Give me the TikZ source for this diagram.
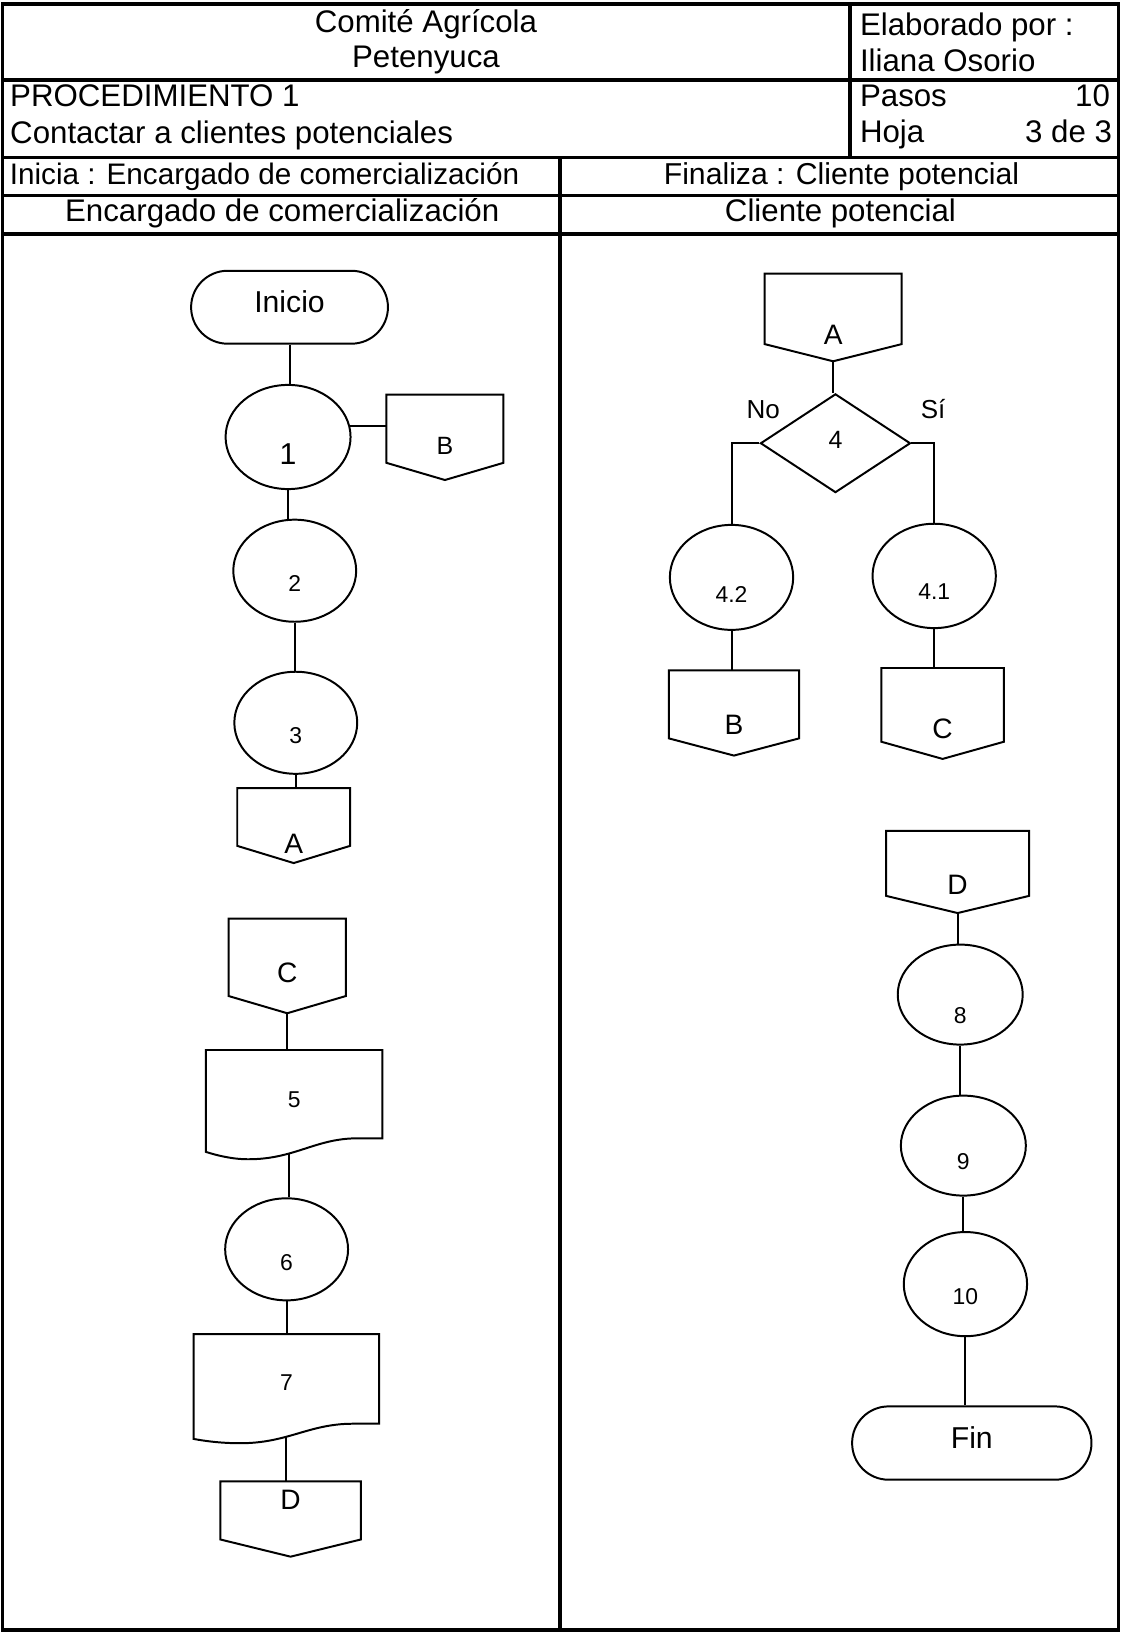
\documentclass[tikz,border=0pt]{standalone}
\usepackage{fontspec}
\setmainfont{Liberation Sans}
\usetikzlibrary{shapes.geometric}

\tikzset{
  linea/.style={line width=1.9pt},
  tabla/.style={line width=3.2pt},
  cab/.style={inner sep=0pt, font=\fontsize{30}{36}\selectfont},
  proc/.style={ellipse, draw, linea, inner sep=0pt, minimum width=118pt, minimum height=98pt},
  term/.style={rectangle, draw, linea, rounded corners=35pt, minimum height=70pt, text depth=10pt, font=\fontsize{29}{34}\selectfont},
  con/.style={rectangle, inner sep=0pt},
  grande/.style={font=\fontsize{27}{32}\selectfont},
  chico/.style={font=\fontsize{22}{26}\selectfont},
}
% conector fuera de pagina
\newcommand\conector[1]{%
  \draw[linea] (#1.north west) -- (#1.north east) -- (#1.south east)
    -- ([yshift=-16.5pt]#1.south) coordinate (#1-p) -- (#1.south west) -- cycle;}

\begin{document}
\begin{tikzpicture}[x=1pt,y=-1pt]
  \useasboundingbox (0,0) rectangle (1080,1568);

  % encabezado
  \draw[tabla] (2.4,3.8) rectangle (1074,1565);
  \draw[tabla] (2.4,76.8) -- (1074,76.8);
  \draw[tabla] (2.4,151) -- (1074,151);
  \draw[tabla] (2.4,188) -- (1074,188);
  \draw[tabla] (2.4,224.6) -- (1074,224.6);
  \draw[tabla] (816,3.8) -- (816,151);
  \draw[tabla] (537.6,151) -- (537.6,1565);

  \node[cab, anchor=base] (h1) at (409,31.5) {Comité Agrícola};
  \node[cab, anchor=base] (h2) at (409,65) {Petenyuca};
  \node[cab, anchor=base west] (h3) at (825.6,34.5) {Elaborado por :};
  \node[cab, anchor=base west] (h4) at (825.6,68.5) {Iliana Osorio};
  \node[cab, anchor=base west] (h5) at (9.6,102.4) {PROCEDIMIENTO 1};
  \node[cab, anchor=base west] (h6) at (9.6,137.5) {Contactar a clientes potenciales};
  \node[cab, anchor=base west] (h7) at (825.6,101.8) {Pasos};
  \node[cab, anchor=base east] (h8) at (1066,101.8) {10};
  \node[cab, anchor=base west] (h9) at (825.6,137.3) {Hoja};
  \node[cab, anchor=base east] (h10) at (1068,137.3) {3 de 3};
  \node[cab, anchor=base, font=\fontsize{28.5}{34}\selectfont] (h11) at (254,177) {Inicia : Encargado de comercialización};
  \node[cab, anchor=base, font=\fontsize{29}{34}\selectfont] (h12) at (808,177) {Finaliza : Cliente potencial};
  \node[cab, anchor=base] (h13) at (271,212.8) {Encargado de comercialización};
  \node[cab, anchor=base] (h14) at (807,212.8) {Cliente potencial};

  % Encargado de comercializacion
  \node[term, minimum width=189pt] (inicio) at (278,295) {Inicio};
  \node[proc, minimum width=120pt, minimum height=100pt, label={[font=\fontsize{29}{34}\selectfont, yshift=-16pt]center:1}] (p1) at (276.6,419.6) {};
  \node[con, minimum width=112pt, minimum height=65pt, label={[font=\fontsize{24}{28}\selectfont, yshift=-16pt]center:B}] (b1) at (427.2,411.7) {};
  \conector{b1}
  \node[proc, label={[chico, yshift=-12pt]center:2}] (p2) at (283,548) {};
  \node[proc, label={[chico, yshift=-12pt]center:3}] (p3) at (284,694) {};
  \node[con, minimum width=108pt, minimum height=55pt, label={[grande, yshift=-25.5pt]center:A}] (a1) at (282,784.5) {};
  \conector{a1}

  \node[con, minimum width=112pt, minimum height=74pt, label={[grande, yshift=-15pt]center:C}] (c1) at (275.8,919.2) {};
  \conector{c1}
  \node[con, minimum width=169.6pt, minimum height=84.8pt, label={[chico, yshift=-5.5pt]center:5}] (d5) at (282.6,1050.8) {};
  \draw[linea, shift={(d5.north west)}] (0,0) -- (169.6,0) -- (169.6,84.8) -- (145,84.8)
    .. controls (105,85) and (85,105) .. coordinate[pos=0.65] (d5-s) (40.6,104.9)
    .. controls (25,104.9) and (10,101) .. (0,97.8) -- cycle;
  \node[proc, label={[chico, yshift=-12.4pt]center:6}] (p6) at (275.2,1199.6) {};
  \node[con, minimum width=178pt, minimum height=86.1pt, label={[chico, yshift=-3.5pt]center:7}] (d7) at (275.2,1324.2) {};
  \draw[linea, shift={(d7.north west)}] (0,0) -- (178,0) -- (178,86.1) -- (152,86.1)
    .. controls (110,86.3) and (90,105) .. coordinate[pos=0.61] (d7-s) (44,104.8)
    .. controls (28,104.8) and (12,103) .. (0,100.7) -- cycle;
  \node[con, minimum width=134.4pt, minimum height=55.4pt, label={[grande, yshift=10pt]center:D}] (dd1) at (279,1450.3) {};
  \conector{dd1}

  \draw[linea] (inicio.south) -- (inicio.south |- p1.north);
  \draw[linea] (p1.10) -- (p1.10 -| b1.west);
  \draw[linea] (p1.south) -- (p1.south |- p2.north);
  \draw[linea] (p2.south) -- (p2.south |- p3.north);
  \draw[linea] (p3.south) -- (p3.south |- a1.north);
  \draw[linea] (c1-p) -- (c1-p |- d5.north);
  \draw[linea] (d5-s) -- (d5-s |- p6.north);
  \draw[linea] (p6.south) -- (p6.south |- d7.north);
  \draw[linea] (d7-s) -- (d7-s |- dd1.north);

  % Cliente potencial
  \node[con, minimum width=131.2pt, minimum height=67.2pt, label={[grande, yshift=-25pt]center:A}] (a2) at (800,296.6) {};
  \conector{a2}
  \node[diamond, draw, linea, inner sep=0pt, minimum width=144pt, minimum height=94.8pt, label={[font=\fontsize{24}{28}\selectfont, yshift=3.2pt]center:4}] (d4) at (802.2,425.6) {};
  \node[font=\fontsize{25}{30}\selectfont] (no) at (732.8,393) {No};
  \node[font=\fontsize{25}{30}\selectfont] (si) at (896,393) {Sí};
  \node[proc, minimum width=118.4pt, minimum height=100.8pt, label={[chico, yshift=-16.8pt]center:4.2}] (p42) at (702.4,554.4) {};
  \node[proc, minimum width=118.4pt, minimum height=100.2pt, label={[chico, yshift=-15pt]center:4.1}] (p41) at (897,553) {};
  \node[con, minimum width=124.5pt, minimum height=65pt, label={[grande, yshift=-19.7pt]center:B}] (b2) at (704.75,676.3) {};
  \conector{b2}
  \node[con, minimum width=117.4pt, minimum height=70.4pt, label={[grande, yshift=-23.2pt]center:C}] (c2) at (905.1,676.8) {};
  \conector{c2}

  \node[con, minimum width=137pt, minimum height=62pt, label={[grande, yshift=-21pt]center:D}] (dd2) at (919.5,829) {};
  \conector{dd2}
  \node[proc, minimum width=120pt, minimum height=96pt, label={[chico, yshift=-20pt]center:8}] (p8) at (922,955) {};
  \node[proc, minimum width=120pt, minimum height=96pt, label={[chico, yshift=-15pt]center:9}] (p9) at (925,1100) {};
  \node[proc, minimum width=118.4pt, minimum height=100pt, label={[chico, yshift=-12.4pt]center:10}] (p10) at (927,1233) {};
  \node[term, minimum width=229.8pt, minimum height=70.4pt] (fin) at (933.1,1385.6) {Fin};

  \draw[linea] (a2-p) -- (a2-p |- d4.north);
  \draw[linea] (d4.west) -| (p42.north);
  \draw[linea] (d4.east) -| (p41.north);
  \draw[linea] (p42.south) -- (p42.south |- b2.north);
  \draw[linea] (p41.south) -- (p41.south |- c2.north);
  \draw[linea] (dd2-p) -- (dd2-p |- p8.north);
  \draw[linea] (p8.south) -- (p8.south |- p9.north);
  \draw[linea] (p9.south) -- (p9.south |- p10.north);
  \draw[linea] (p10.south) -- (p10.south |- fin.north);
\end{tikzpicture}
\end{document}
